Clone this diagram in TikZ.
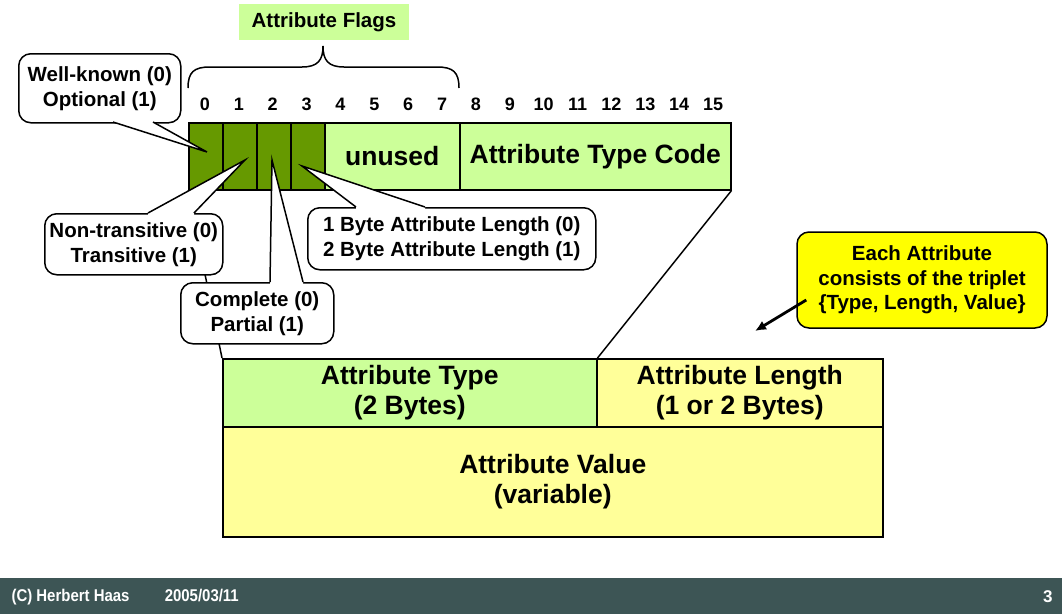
\documentclass[tikz,border=0pt]{standalone}
\usepackage{fontspec}
\setmainfont{Liberation Sans}
\usetikzlibrary{arrows.meta}
\definecolor{dkgreen}{HTML}{669900}
\definecolor{ltgreen}{HTML}{CCFF99}
\definecolor{ltyellow}{HTML}{FFFF99}
\definecolor{notey}{HTML}{FFFF00}
\definecolor{footerc}{HTML}{3D5555}
\tikzset{
  cellbox/.style={draw, line width=1.5pt, inner sep=0pt, anchor=north west, font=\bfseries\fontsize{26.5}{30}\selectfont},
  bignum/.style={font=\bfseries\fontsize{18}{21}\selectfont},
  callout/.style={draw, line width=1.5pt, fill=white, rounded corners=12pt, inner sep=0pt, anchor=north west, align=center, font=\bfseries\fontsize{20.5}{25}\selectfont},
  wedgeline/.style={line width=1.5pt, line join=miter},
  zoomline/.style={line width=1.5pt},
  note/.style={draw, line width=1.5pt, fill=notey, rounded corners=12pt, inner sep=0pt, align=center, font=\bfseries\fontsize{20.5}{24.5}\selectfont},
  footertext/.style={text=white, anchor=west, font=\bfseries\fontsize{17}{19}\selectfont},
}
\begin{document}
\begin{tikzpicture}[x=1pt,y=-1pt]
\useasboundingbox (0,0) rectangle (1062,614);
\fill[white] (0,0) rectangle (1062,614);

% title
\node[fill=ltgreen, minimum width=170pt, minimum height=36pt, inner sep=0pt, font=\bfseries\fontsize{20.5}{24}\selectfont] (title) at (324,22) {Attribute Flags};

% brace
\draw[line width=1.5pt] (188,88) .. controls (188,72) and (194,67) .. (210,67) -- (302,67) .. controls (318,67) and (323,60) .. (323,46)
  .. controls (323,60) and (328,67) .. (344,67) -- (437,67) .. controls (453,67) and (459,72) .. (459,88);

% bit numbers
\foreach \i in {0,...,15} {
  \node[bignum] (b\i) at ({188+33.875*(\i+0.5)},104) {\i};
}

% bottom boxes
\node[cellbox, fill=ltgreen, minimum width=374pt, minimum height=68pt, align=center] (atype) at (222,358) {Attribute Type\\(2 Bytes)};
\node[cellbox, fill=ltyellow, minimum width=286pt, minimum height=68pt, align=center] (alen) at (596,358) {Attribute Length\\(1 or 2 Bytes)};
\node[cellbox, fill=ltyellow, minimum width=660pt, minimum height=110pt, align=center] (aval) at (222,426) {Attribute Value\\(variable)};

% bar
\node[cellbox, fill=dkgreen, minimum width=34pt, minimum height=67pt] (c0) at (188,122) {};
\node[cellbox, fill=dkgreen, minimum width=34pt, minimum height=67pt] (c1) at (222,122) {};
\node[cellbox, fill=dkgreen, minimum width=34pt, minimum height=67pt] (c2) at (256,122) {};
\node[cellbox, fill=dkgreen, minimum width=34pt, minimum height=67pt] (c3) at (290,122) {};
\node[cellbox, fill=ltgreen, minimum width=135pt, minimum height=67pt] (unused) at (324,122) {unused};
\node[cellbox, fill=ltgreen, minimum width=271pt, minimum height=67pt] (atc) at (459,122) {Attribute Type Code};

% zoom lines
\draw[zoomline] (c0.south west) -- (atype.north west);
\draw[zoomline] (atc.south east) -- (atype.north east);

% callouts
\node[callout, minimum width=162pt, minimum height=69pt] (wk) at (18,53) {Well-known (0)\\Optional (1)};
\coordinate (wkt) at (207,152);
\fill[white] (113,118) -- (113,122) -- (wkt) -- (153,122) -- (153,118) -- cycle;
\draw[wedgeline] (113,122) -- (wkt) -- (153,122);

\node[callout, minimum width=178pt, minimum height=61pt] (nt) at (44,213) {Non-transitive (0)\\Transitive (1)};
\coordinate (ntt) at (245,160);
\fill[white] (148,217) -- (148,213) -- (ntt) -- (194,213) -- (194,217) -- cycle;
\draw[wedgeline] (148,213) -- (ntt) -- (194,213);

\node[callout, minimum width=153pt, minimum height=61pt] (cp) at (180,282) {Complete (0)\\Partial (1)};
\coordinate (cpt) at (272,160);
\fill[white] (270,286) -- (270,282) -- (cpt) -- (303,282) -- (303,286) -- cycle;
\draw[wedgeline] (270,282) -- (cpt) -- (303,282);

\node[callout, minimum width=288pt, minimum height=62pt] (bl) at (307,207) {1 Byte Attribute Length (0)\\2 Byte Attribute Length (1)};
\coordinate (blt) at (302,166);
\fill[white] (356,211) -- (356,207) -- (blt) -- (425,207) -- (425,211) -- cycle;
\draw[wedgeline] (356,207) -- (blt) -- (425,207);

% note
\node[note, minimum width=250pt, minimum height=96pt] (note) at (922,280) {Each Attribute\\consists of the triplet\\\{Type, Length, Value\}};
\coordinate (arrtip) at (755,331);
\draw[line width=2.8pt, -{Latex[length=11pt,width=10pt]}] ([xshift=10pt,yshift=-20pt]note.west) -- (arrtip);

% footer
\fill[footerc] (0,578) rectangle (1062,614);
\node[footertext] (foot) at (8,597) {\scalebox{0.88}[1]{(C) Herbert Haas\hspace{40pt}2005/03/11}};
\node[footertext, anchor=east] (page) at (1056,597) {3};
\end{tikzpicture}
\end{document}
